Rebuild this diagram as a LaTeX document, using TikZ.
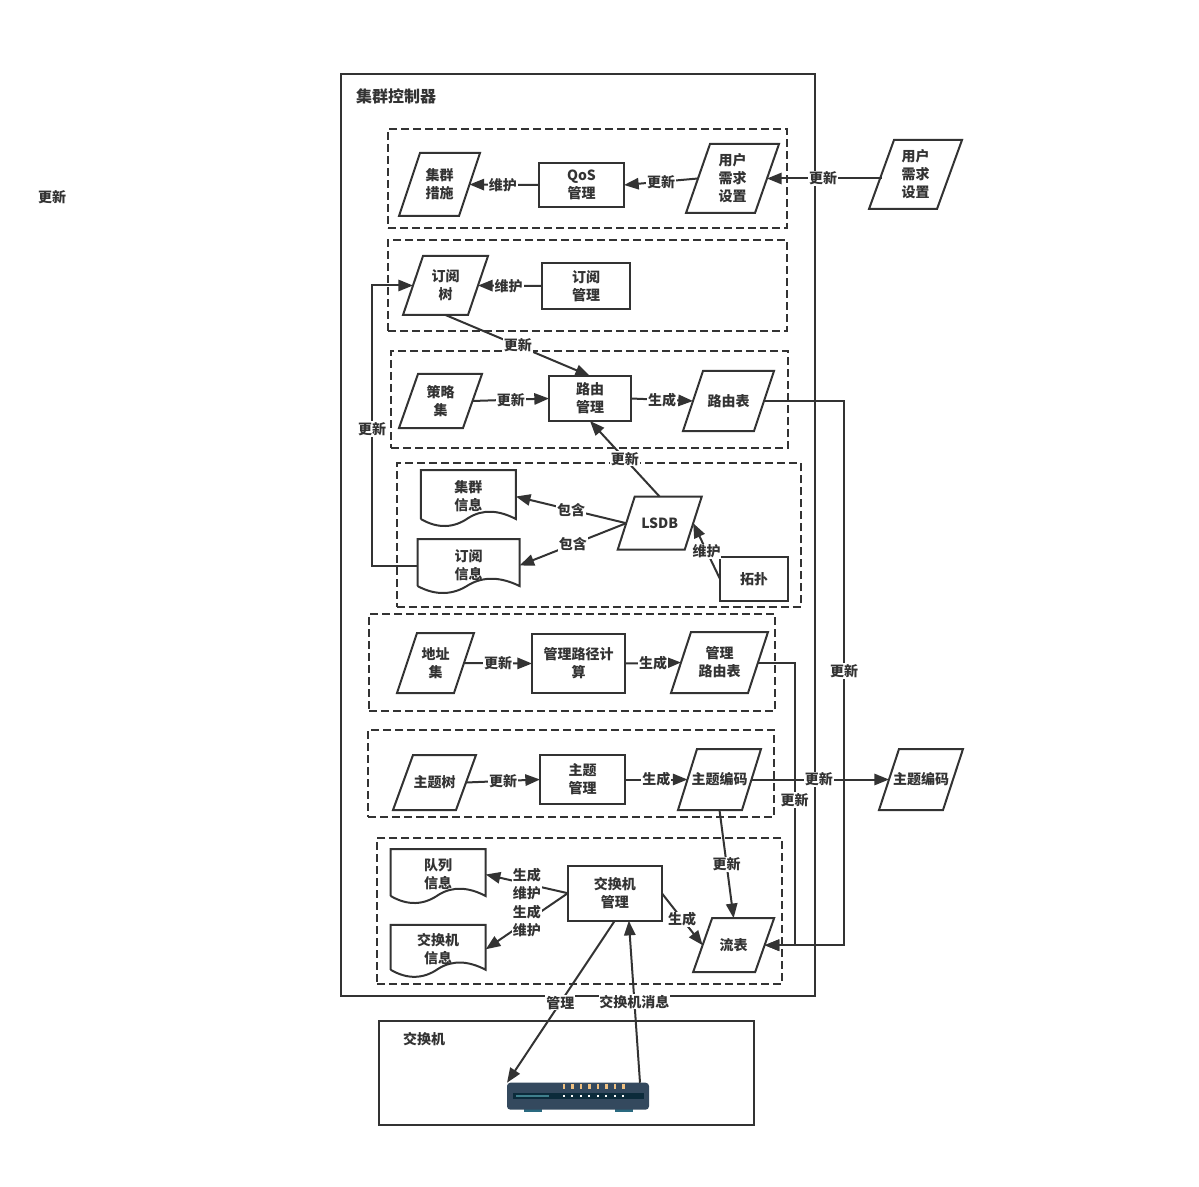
\documentclass[tikz,border=0pt]{standalone}
\usepackage{fontspec}
\setmainfont{Noto Sans CJK SC}
\usetikzlibrary{arrows.meta,calc}
\definecolor{inkgray}{HTML}{333333}
\definecolor{switchbody}{HTML}{34495E}
\definecolor{switchstrip}{HTML}{0C2B3B}
\definecolor{switchbar}{HTML}{3F7F8C}
\definecolor{switchled}{HTML}{F0C080}
\definecolor{switchfoot}{HTML}{2A6A80}
\tikzset{
  basenode/.style={draw=inkgray, text=inkgray, inner sep=0pt, outer sep=0pt, align=center,
    font=\fontsize{10.5}{13.5}\selectfont\bfseries},
  rectnode/.style 2 args={basenode, rectangle, minimum width=#1*0.75pt, minimum height=#2*0.75pt},
  paranode/.style 2 args={rectnode={#1}{#2}, draw=none},
  docnode/.style 2 args={rectnode={#1}{#2}, draw=none},
  groupbox/.style 2 args={rectangle, draw=inkgray, dash pattern=on 6pt off 3pt, inner sep=0pt,
    outer sep=0pt, minimum width=#1*0.75pt, minimum height=#2*0.75pt},
  framebox/.style 2 args={rectangle, draw=inkgray, inner sep=0pt, outer sep=0pt,
    minimum width=#1*0.75pt, minimum height=#2*0.75pt},
  edgelabel/.style={fill=white, text=inkgray, inner sep=0.6pt, align=center,
    font=\fontsize{10.5}{13.5}\selectfont\bfseries},
  plainlabel/.style={text=inkgray, inner sep=0pt, font=\fontsize{10.5}{13.5}\selectfont\bfseries}
}
\newcommand{\paraoutline}[2]{
  \draw[draw=inkgray] ($(#1.north west)+(#2,0)$)--($(#1.north east)+(#2,0)$)
    --($(#1.south east)+(-#2,0)$)--($(#1.south west)+(-#2,0)$)--cycle;
}
\newcommand{\docoutline}[2][2]{
  \coordinate (#2nw) at ($(#2.north west)+(0,-#1)$);
  \coordinate (#2ne) at ($(#2.north east)+(0,-#1)$);
  \coordinate (#2sw) at ($(#2.south west)+(0,-#1)$);
  \coordinate (#2se) at ($(#2.south east)+(0,-#1)$);
  \draw[draw=inkgray] (#2sw)--(#2nw)--(#2ne)--(#2se)
    .. controls ($(#2se)!.18!(#2sw)+(0,-9)$) and ($(#2se)!.35!(#2sw)+(0,-10)$)
    .. ($(#2se)!.5!(#2sw)+(0,-1)$)
    .. controls ($(#2se)!.65!(#2sw)+(0,9)$) and ($(#2se)!.82!(#2sw)+(0,10)$)
    .. (#2sw);
}
\begin{document}
\begin{tikzpicture}[x=0.75pt, y=-0.75pt, line width=1.5pt, >={Triangle[length=11pt, width=8.5pt]}]
  \useasboundingbox (0,0) rectangle (1199,1187);

  \node[plainlabel] (looselabel) at (52,197) {更新};

  \node[framebox={474}{922}] (controller) at (578,535) {};
  \node[plainlabel, font=\fontsize{12}{14}\selectfont\bfseries] (controllertitle) at (396,96) {集群控制器};

  \node[groupbox={399}{99}] (qosgroup) at (587.5,178.5) {};
  \node[groupbox={399}{91}] (subgroup) at (587.5,285.5) {};
  \node[groupbox={397}{97}] (routegroup) at (589.5,399.5) {};
  \node[groupbox={404}{144}] (lsdbgroup) at (598.7,535.3) {};
  \node[groupbox={406}{97}] (addrgroup) at (572,662.5) {};
  \node[groupbox={406}{87}] (topicgroup) at (571,773.5) {};
  \node[groupbox={405}{146}] (switchgroup) at (579.8,911.2) {};

  \node[paranode={60}{63}] (measure) at (439.5,184.5) {集群\\措施};
  \node[rectnode={85}{44}] (qos) at (581.5,185) {QoS\\管理};
  \node[paranode={69}{69}] (userin) at (732.5,178.5) {用户\\需求\\设置};
  \node[paranode={68}{69}] (userout) at (915.5,174.5) {用户\\需求\\设置};
  \paraoutline{measure}{10.5}
  \paraoutline{userin}{12}
  \paraoutline{userout}{12.5}

  \node[paranode={65}{59}] (subtree) at (445.5,285.5) {订阅\\树};
  \node[rectnode={88}{46}] (submgr) at (586,286) {订阅\\管理};
  \paraoutline{subtree}{10}

  \node[paranode={64}{54}] (strategy) at (440.5,401) {策略\\集};
  \node[rectnode={82}{45}] (routemgr) at (590,398.5) {路由\\管理};
  \node[paranode={71}{60}] (routetable) at (728.5,401) {路由表};
  \paraoutline{strategy}{9.5}
  \paraoutline{routetable}{10}

  \node[docnode={95}{49}] (clusterinfo) at (468.3,496.5) {集群\\信息};
  \node[docnode={102}{47}] (subinfo) at (468.5,565.5) {订阅\\信息};
  \docoutline{clusterinfo}
  \docoutline[3]{subinfo}
  \node[paranode={67}{53}] (lsdb) at (659.7,523.2) {LSDB};
  \node[rectnode={68}{44}] (topo) at (754,579) {拓扑};
  \paraoutline{lsdb}{8.5}

  \node[paranode={57}{60}] (addrset) at (435.5,663) {地址\\集};
  \node[rectnode={93}{59}] (pathcalc) at (578.5,663.5) {管理路径计\\算};
  \node[paranode={77}{61}] (mgrtable) at (719.5,662.5) {管理\\路由表};
  \paraoutline{addrset}{10}
  \paraoutline{mgrtable}{10}

  \node[paranode={63}{55}] (topictree) at (434.5,782.5) {主题树};
  \node[rectnode={85}{49}] (topicmgr) at (582.5,779.5) {主题\\管理};
  \node[paranode={64}{61}] (codein) at (719.5,779.5) {主题编码};
  \node[paranode={64}{61}] (codeout) at (921,779.5) {主题编码};
  \paraoutline{topictree}{10}
  \paraoutline{codein}{9.5}
  \paraoutline{codeout}{10}

  \node[docnode={95}{47}] (queueinfo) at (438.2,874.5) {队列\\信息};
  \node[docnode={95}{45}] (switchinfo) at (438.2,949.3) {交换机\\信息};
  \docoutline{queueinfo}
  \docoutline{switchinfo}
  \node[rectnode={94}{55}] (switchmgr) at (614.8,893.2) {交换机\\管理};
  \node[paranode={62}{54}] (flowtable) at (733.6,945.2) {流表};
  \paraoutline{flowtable}{9.5}

  \node[framebox={375}{104}] (switchbox) at (566,1073) {};
  \node[plainlabel] (switchtitle) at (424,1039) {交换机};

  \fill[switchfoot] (524,1109) rectangle (542.3,1111.7);
  \fill[switchfoot] (615,1109) rectangle (633.3,1111.7);
  \node[rectangle, fill=switchbody, rounded corners=2.5pt, inner sep=0pt, outer sep=0pt,
    minimum width=106.5pt, minimum height=20.2pt] (switchdev) at (578,1096.2) {};
  \fill[switchstrip] (512.7,1092.7) rectangle (644,1099.3);
  \fill[switchbar] (516,1094.7) rectangle (548.7,1097);
  \foreach \ledx in {564,572.3,581,589.3,598,606.3,615,623.3}{
    \fill[switchled] (\ledx-1.2,1084) rectangle (\ledx+1.2,1088.7);
    \fill[white] (\ledx-0.9,1094.8) rectangle (\ledx+0.9,1096.6);
  }

  \begin{scope}[draw=inkgray]
  \draw[->] (userout.west |- userin.east)--(userin.east) node[edgelabel, pos=.51] {更新};
  \draw[->] (userin.west)--(qos.east) node[edgelabel, pos=.5] {更新};
  \draw[->] (qos.west)--(measure.east) node[edgelabel, pos=.52] {维护};

  \draw[->] (submgr.west)--(subtree.east) node[edgelabel, pos=.52] {维护};
  \draw[->] (subtree.south)--(routemgr.north) node[edgelabel, pos=.5] {更新};

  \coordinate (subbus) at (372,429);
  \draw[->] (subinfo.west) -| (subbus) |- (subtree.west);
  \node[edgelabel] (subbuslabel) at (subbus) {更新};

  \draw[->] (strategy.east)--(routemgr.west) node[edgelabel, pos=.5] {更新};
  \draw[->] (routemgr.east)--(routetable.west) node[edgelabel, pos=.5] {生成};
  \draw[->] (lsdb.north)--(routemgr.south) node[edgelabel, pos=.5] {更新};

  \draw[->] (lsdb.west)--(clusterinfo.east) node[edgelabel, pos=.5] {包含};
  \draw[->] (lsdb.west)--(subinfo.east) node[edgelabel, pos=.5] {包含};
  \draw[->] (topo.west)--(lsdb.east) node[edgelabel, pos=.5] {维护};

  \draw[->] (addrset.east)--(pathcalc.west) node[edgelabel, pos=.5] {更新};
  \draw[->] (pathcalc.east)--(mgrtable.west) node[edgelabel, pos=.5] {生成};

  \draw[->] (topictree.east)--(topicmgr.west) node[edgelabel, pos=.5] {更新};
  \draw[->] (topicmgr.east)--(codein.west) node[edgelabel, pos=.5] {生成};

  \coordinate (mgrbus) at (794.5,800);
  \draw[->] (mgrtable.east) -| (mgrbus) |- (flowtable.east);
  \node[edgelabel] (mgrbuslabel) at (mgrbus) {更新};

  \draw[->] (codein.east)--(codeout.west) node[edgelabel, pos=.49] {更新};
  \draw[->] (codein.south)--(flowtable.north) node[edgelabel, pos=.5] {更新};

  \coordinate (routebus) at (844,671);
  \draw[->] (routetable.east) -| (routebus) |- (flowtable.east);
  \node[edgelabel] (routebuslabel) at (routebus) {更新};

  \draw[->] (switchmgr.west)--(queueinfo.east) node[edgelabel, pos=.5] {生成\\维护};
  \draw[->] (switchmgr.west)--(switchinfo.east) node[edgelabel, pos=.5] {生成\\维护};
  \draw[->] (switchmgr.east)--(flowtable.west) node[edgelabel, pos=.5] {生成};

  \draw[->] (switchmgr.south)--(switchdev.north west) node[edgelabel, pos=.506] {管理};
  \draw[->] ([xshift=-6.75pt]switchdev.north east)--([xshift=10.5pt]switchmgr.south) node[edgelabel, pos=.5] {交换机消息};
  \end{scope}

\end{tikzpicture}
\end{document}
